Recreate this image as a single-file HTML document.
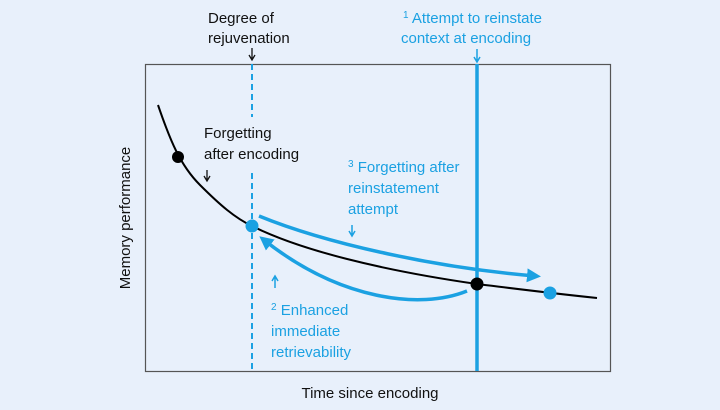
<!DOCTYPE html>
<html><head><style>
body{margin:0;width:720px;height:405px;background:#e8f0fb;overflow:hidden}
text{font-family:"Liberation Sans",sans-serif;font-size:15px}
</style></head><body>
<svg width="720" height="405" viewBox="0 0 720 405">
<defs>
<marker id="ah2" markerWidth="14" markerHeight="14" refX="8" refY="7" orient="auto" markerUnits="userSpaceOnUse"><path d="M0,0 L14,7 L0,14 Z" fill="#1ba1e2"/></marker>
</defs>
<rect x="145.5" y="64.5" width="465" height="307" fill="#e8f0fb" stroke="#555" stroke-width="1.2"/>
<line x1="252" y1="64" x2="252" y2="117" stroke="#1ba1e2" stroke-width="2" stroke-dasharray="6,4"/>
<line x1="252" y1="173" x2="252" y2="371" stroke="#1ba1e2" stroke-width="2" stroke-dasharray="6,4"/>
<line x1="477" y1="64" x2="477" y2="371" stroke="#1ba1e2" stroke-width="3.5"/>
<path d="M158,105 C170,140 180,165 200,185 C220,205 235,218 252,226 C300,250 380,270 477,284 C510,288 540,292 597,298" fill="none" stroke="#000" stroke-width="2"/>
<path d="M259,216 C330,245 440,268 535,276" fill="none" stroke="#1ba1e2" stroke-width="3.5" marker-end="url(#ah2)"/>
<path d="M467,291 C420,310 340,300 264,240" fill="none" stroke="#1ba1e2" stroke-width="3.5" marker-end="url(#ah2)"/>
<circle cx="178" cy="157" r="6" fill="#000"/>
<circle cx="252" cy="226" r="6.5" fill="#1ba1e2"/>
<circle cx="477" cy="284" r="6.5" fill="#000"/>
<circle cx="550" cy="293" r="6.5" fill="#1ba1e2"/>
<text x="208" y="23" fill="#111">Degree of</text>
<text x="208" y="43" fill="#111">rejuvenation</text>
<path d="M252,48 V59 M249,55 L252,60 L255,55" stroke="#111" stroke-width="1.3" fill="none"/>
<text x="403" y="23" fill="#1ba1e2"><tspan font-size="10" dy="-5">1</tspan><tspan dy="5"> Attempt to reinstate</tspan></text>
<text x="401" y="43" fill="#1ba1e2">context at encoding</text>
<path d="M477,49 V61 M474,57 L477,62 L480,57" stroke="#1ba1e2" stroke-width="1.5" fill="none"/>
<text x="204" y="138" fill="#111">Forgetting</text>
<text x="204" y="159" fill="#111">after encoding</text>
<path d="M207,170 V180 M204,176 L207,181 L210,176" stroke="#111" stroke-width="1.3" fill="none"/>
<text x="348" y="172" fill="#1ba1e2"><tspan font-size="10" dy="-5">3</tspan><tspan dy="5"> Forgetting after</tspan></text>
<text x="348" y="193" fill="#1ba1e2">reinstatement</text>
<text x="348" y="214" fill="#1ba1e2">attempt</text>
<path d="M352,225 V235 M349,231 L352,236 L355,231" stroke="#1ba1e2" stroke-width="1.5" fill="none"/>
<path d="M275,288 V277 M272,281 L275,276 L278,281" stroke="#1ba1e2" stroke-width="1.5" fill="none"/>
<text x="271" y="315" fill="#1ba1e2"><tspan font-size="10" dy="-5">2</tspan><tspan dy="5"> Enhanced</tspan></text>
<text x="271" y="336" fill="#1ba1e2">immediate</text>
<text x="271" y="357" fill="#1ba1e2">retrievability</text>
<text x="370" y="398" fill="#111" text-anchor="middle">Time since encoding</text>
<text transform="translate(130,218) rotate(-90)" fill="#111" text-anchor="middle">Memory performance</text>
</svg>
</body></html>
